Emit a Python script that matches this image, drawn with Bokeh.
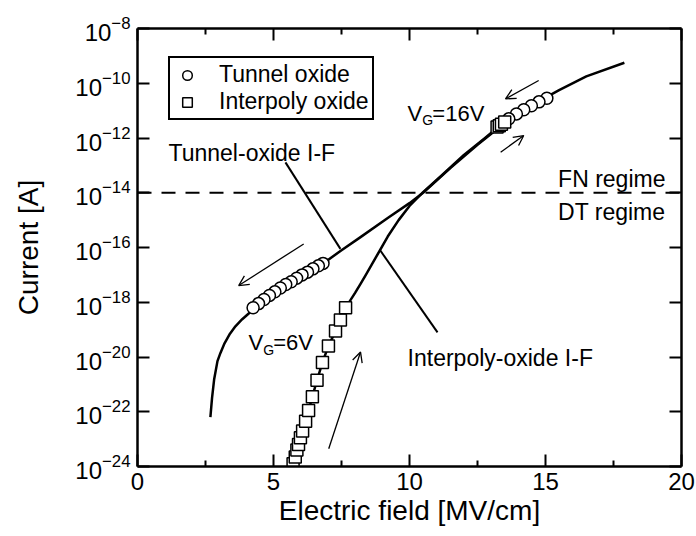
import numpy as np
from bokeh.plotting import figure
from bokeh.models import (Range1d, FixedTicker, LinearAxis, LogAxis, CustomJSTickFormatter,
                          Legend, LegendItem, Label, Arrow, OpenHead, Span, ColumnDataSource)
from bokeh.embed import file_html
from bokeh.resources import INLINE

# ---------------- data ----------------
# Tunnel-oxide I-F curve: electric field [MV/cm] and log10(current [A])
tunnel_curve_field = [2.68, 2.74, 2.82, 2.94, 3.05, 3.2, 3.4, 3.6, 3.85, 4.1, 4.4, 4.7, 5.0,
                      5.5, 6.0, 6.8, 7.5, 8.2, 9.2, 10.0, 10.5, 11.5, 12.5, 13.5, 14.5,
                      15.5, 16.5, 17.9]
tunnel_curve_logI = [-22.2, -21.5, -20.8, -20.15, -19.85, -19.5, -19.15, -18.88, -18.62,
                     -18.4, -18.12, -17.88, -17.65, -17.3, -17.0, -16.6, -16.1, -15.62,
                     -14.92, -14.38, -14.0, -13.1, -12.25, -11.45, -10.8, -10.25, -9.75, -9.25]

# Interpoly-oxide I-F curve
interpoly_curve_field = [5.6, 5.8, 6.0, 6.2, 6.4, 6.6, 6.8, 7.0, 7.3, 7.65, 7.8, 8.0, 8.2,
                         8.4, 8.8, 9.2, 9.6, 10.0, 10.5, 11.2, 12.0, 12.8, 13.5]
interpoly_curve_logI = [-24.3, -23.6, -22.92, -22.3, -21.55, -20.85, -20.2, -19.65, -19.0,
                        -18.2, -17.97, -17.66, -17.33, -16.99, -16.3, -15.6, -15.0, -14.48,
                        -13.98, -13.35, -12.62, -11.98, -11.4]

# Tunnel oxide measured points (circles)
tunnel_low_field = [4.25, 4.45, 4.65, 4.85, 5.05, 5.25, 5.45, 5.65, 5.85, 6.05, 6.25, 6.45, 6.65, 6.82]
tunnel_low_logI = [-18.2, -18.05, -17.9, -17.75, -17.62, -17.48, -17.35, -17.25, -17.12, -17.0,
                   -16.9, -16.78, -16.67, -16.58]
tunnel_high_field = [13.65, 13.93, 14.2, 14.48, 14.76, 15.05]
tunnel_high_logI = [-11.3, -11.12, -10.97, -10.82, -10.68, -10.55]

# Interpoly oxide measured points (squares)
interpoly_low_field = [5.72, 5.8, 5.86, 5.92, 5.99, 6.07, 6.18, 6.29, 6.43, 6.6, 6.8, 7.02,
                       7.28, 7.46, 7.65]
interpoly_low_logI = [-23.9, -23.65, -23.4, -23.2, -22.95, -22.7, -22.35, -21.95, -21.45,
                      -20.85, -20.2, -19.6, -19.05, -18.65, -18.2]
interpoly_high_field = [13.22, 13.3, 13.38, 13.5]
interpoly_high_logI = [-11.6, -11.55, -11.5, -11.42]

regime_boundary_logI = -14

x_ticks = [0, 5, 10, 15, 20]
x_minor_ticks = [2.5, 7.5, 12.5, 17.5]
y_tick_exponents = [-24, -22, -20, -18, -16, -14, -12, -10, -8]

FONT = "Liberation Sans"

def pw(a):
    return list(10.0 ** np.asarray(a, dtype=float))

# ---------------- figure ----------------
p = figure(width=696, height=536, x_range=Range1d(0, 20), y_range=Range1d(1e-24, 1e-8),
           y_axis_type="log", output_backend="svg", toolbar_location=None,
           min_border_left=137, min_border_right=15, min_border_top=28, min_border_bottom=70)
p.xgrid.visible = False
p.ygrid.visible = False
p.outline_line_color = None
p.background_fill_color = "white"
p.border_fill_color = "white"

x_ticker = FixedTicker(ticks=x_ticks, minor_ticks=x_minor_ticks)
y_ticker = FixedTicker(ticks=[10.0 ** e for e in y_tick_exponents])

def style_axis(ax):
    ax.axis_line_width = 2.5
    ax.axis_line_color = "black"
    ax.major_tick_in = 12
    ax.major_tick_out = 0
    ax.minor_tick_in = 6
    ax.minor_tick_out = 0
    ax.major_tick_line_width = 2
    ax.minor_tick_line_width = 2
    ax.major_label_text_font = FONT
    ax.major_label_text_color = "black"
    ax.axis_label_text_font = FONT
    ax.axis_label_text_font_style = "normal"
    ax.axis_label_text_color = "black"

xa = p.xaxis[0]
xa.ticker = x_ticker
style_axis(xa)
xa.major_label_text_font_size = "24px"
xa.major_label_standoff = 6
xa.axis_label = "Electric field [MV/cm]"
xa.axis_label_text_font_size = "28px"
xa.axis_label_standoff = 2

ya = p.yaxis[0]
ya.ticker = y_ticker
style_axis(ya)
ya.major_label_text_font_size = "24px"
ya.major_label_standoff = 7
ya.axis_label = "Current [A]"
ya.axis_label_text_font_size = "28px"
ya.axis_label_standoff = 28

top = LinearAxis(ticker=FixedTicker(ticks=x_ticks, minor_ticks=x_minor_ticks),
                 formatter=CustomJSTickFormatter(code="return ''"))
style_axis(top)
top.major_label_text_font_size = "1px"
top.major_label_standoff = 0
p.add_layout(top, "above")

right = LogAxis(ticker=FixedTicker(ticks=[10.0 ** e for e in y_tick_exponents]),
                formatter=CustomJSTickFormatter(code="return ''"))
style_axis(right)
right.major_label_text_font_size = "1px"
right.major_label_standoff = 0
p.add_layout(right, "right")

# FN / DT boundary
p.add_layout(Span(location=10.0 ** regime_boundary_logI, dimension="width",
                  line_color="black", line_width=2, line_dash="14 10"))

# curves
p.line(tunnel_curve_field, pw(tunnel_curve_logI), line_color="black", line_width=2.5,
       line_join="round")
p.line(interpoly_curve_field, pw(interpoly_curve_logI), line_color="black", line_width=2.5,
       line_join="round")

# leader lines for curve labels
p.segment(x0=[5.44, 8.92], y0=pw([-12.89, -16.1]), x1=[7.46, 11.03], y1=pw([-16.05, -19.1]),
          line_color="black", line_width=2)

# measured points
circ_field = tunnel_high_field[::-1] + tunnel_low_field[::-1]
circ_logI = tunnel_high_logI[::-1] + tunnel_low_logI[::-1]
circ_src = ColumnDataSource(dict(x=circ_field, y=pw(circ_logI)))
circles = p.scatter("x", "y", source=circ_src, marker="circle", size=12,
                    line_color="black", line_width=1.5, fill_color="white")

sq_field = interpoly_low_field + interpoly_high_field
sq_logI = interpoly_low_logI + interpoly_high_logI
sq_src = ColumnDataSource(dict(x=sq_field, y=pw(sq_logI)))
squares = p.scatter("x", "y", source=sq_src, marker="square", size=12,
                    line_color="black", line_width=1.5, fill_color="white")

# arrows
for (xs, ys, xe, ye) in [(14.75, -9.90, 13.53, -10.57),
                         (13.35, -12.52, 14.20, -11.91),
                         (6.11, -15.87, 3.72, -17.39),
                         (7.03, -23.35, 8.20, -19.82)]:
    p.add_layout(Arrow(end=OpenHead(size=10, line_width=1.3, line_color="black"),
                       x_start=xs, y_start=10.0 ** ys, x_end=xe, y_end=10.0 ** ye,
                       line_color="black", line_width=1.3))

# text annotations
def add_label(x, logy, text, size="23px", align="left"):
    p.add_layout(Label(x=x, y=10.0 ** logy, text=text, text_font=FONT, text_font_size=size,
                       text_baseline="alphabetic", text_align=align, text_color="black"))

add_label(1.14, -12.53, "Tunnel-oxide I-F")
add_label(9.93, -20.05, "Interpoly-oxide I-F")
add_label(19.41, -13.48, "FN regime", align="right")
add_label(19.41, -14.72, "DT regime", align="right")
# V_G=16V
add_label(9.93, -11.1, "V", size="22px")
add_label(10.47, -11.36, "G", size="14px")
add_label(10.84, -11.1, "=16V", size="22px")
# V_G=6V
add_label(4.08, -19.47, "V", size="22px")
add_label(4.62, -19.73, "G", size="14px")
add_label(4.99, -19.47, "=6V", size="22px")

legend = Legend(items=[LegendItem(label="Tunnel oxide", renderers=[circles]),
                       LegendItem(label="Interpoly oxide", renderers=[squares])],
                location=(31, 346), padding=3, spacing=0, glyph_width=28, glyph_height=24,
                label_standoff=18, label_text_font=FONT, label_text_font_size="23px",
                label_text_color="black",
                border_line_color="black", border_line_alpha=1.0, border_line_width=2,
                background_fill_alpha=1, margin=0)
p.add_layout(legend)

open("out.html", "w").write(file_html(p, INLINE))
